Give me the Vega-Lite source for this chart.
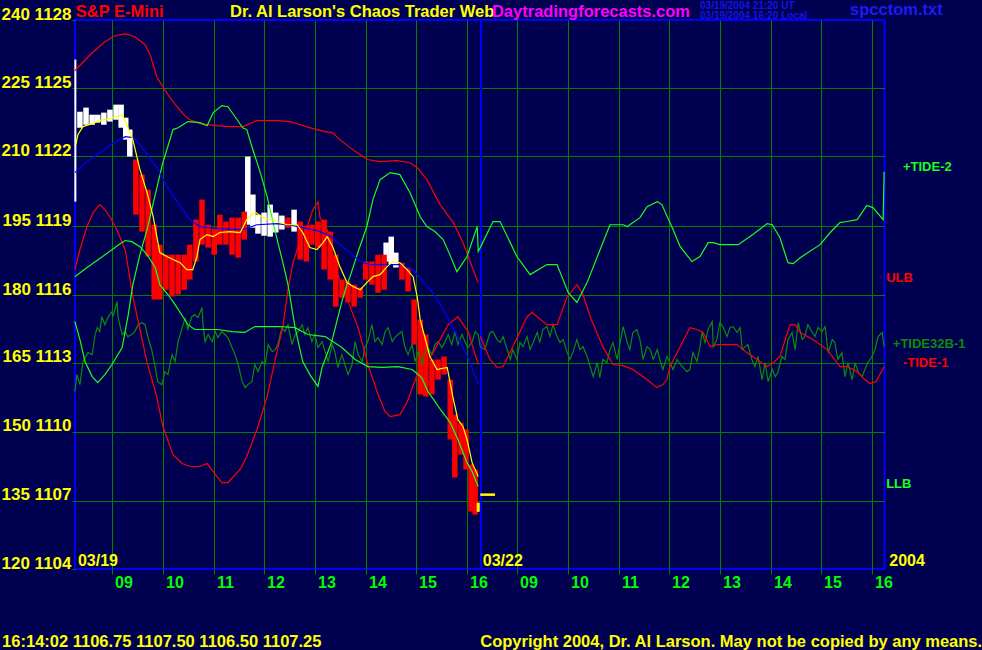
{
"$schema":"https://vega.github.io/schema/vega-lite/v6.json",
"width":809.5,"height":549,
"autosize":{"type":"none"},
"padding":{"left":75,"top":20,"right":97.5,"bottom":81},
"background":"#000050",
"config":{"view":{"stroke":"#0000ff","strokeWidth":2},"axis":{"title":null}},
"datasets":{
"sep":[{"t":16.235,"p":1104,"p2":1128}],
"open":[{"t":8.26,"p":1120.06,"p2":1126.27}],
"last":[{"t":16.18,"p":1106.5,"p2":1106.9}],
"quote":[{"t":16.22,"t2":16.51,"p":1107.25}],
"bars":[
{"t":8.35,"p":1123.29,"p2":1123.99,"zone":"above"},{"t":8.47,"p":1123.42,"p2":1124.17,"zone":"above"},{"t":8.59,"p":1123.42,"p2":1123.86,"zone":"above"},{"t":8.70,"p":1123.51,"p2":1123.86,"zone":"above"},{"t":8.82,"p":1123.42,"p2":1123.95,"zone":"above"},{"t":8.94,"p":1123.56,"p2":1124.08,"zone":"above"},{"t":9.06,"p":1123.64,"p2":1124.30,"zone":"above"},{"t":9.16,"p":1123.29,"p2":1124.30,"zone":"above"},{"t":9.25,"p":1122.77,"p2":1123.73,"zone":"above"},{"t":9.33,"p":1122.03,"p2":1123.21,"zone":"above"},
{"t":9.45,"p":1119.49,"p2":1121.90,"zone":"below"},{"t":9.57,"p":1118.75,"p2":1121.24,"zone":"below"},{"t":9.69,"p":1117.66,"p2":1120.58,"zone":"below"},{"t":9.81,"p":1115.78,"p2":1119.05,"zone":"below"},{"t":9.92,"p":1115.78,"p2":1118.18,"zone":"below"},{"t":10.04,"p":1116.21,"p2":1117.74,"zone":"below"},{"t":10.16,"p":1115.91,"p2":1117.74,"zone":"below"},{"t":10.28,"p":1116.00,"p2":1117.74,"zone":"below"},{"t":10.40,"p":1116.21,"p2":1117.74,"zone":"below"},{"t":10.51,"p":1116.65,"p2":1118.18,"zone":"below"},{"t":10.63,"p":1117.44,"p2":1119.27,"zone":"below"},{"t":10.75,"p":1118.18,"p2":1120.15,"zone":"below"},{"t":10.87,"p":1118.05,"p2":1119.05,"zone":"below"},{"t":10.99,"p":1117.74,"p2":1118.92,"zone":"below"},{"t":11.10,"p":1118.18,"p2":1119.49,"zone":"below"},{"t":11.22,"p":1118.18,"p2":1119.19,"zone":"below"},{"t":11.34,"p":1117.74,"p2":1119.36,"zone":"below"},{"t":11.46,"p":1117.61,"p2":1119.36,"zone":"below"},{"t":11.58,"p":1118.40,"p2":1119.62,"zone":"below"},
{"t":11.65,"p":1119.05,"p2":1122.03,"zone":"above"},{"t":11.75,"p":1118.92,"p2":1120.37,"zone":"above"},{"t":11.85,"p":1118.66,"p2":1119.49,"zone":"above"},{"t":11.97,"p":1118.57,"p2":1119.58,"zone":"above"},{"t":12.09,"p":1118.53,"p2":1119.93,"zone":"above"},{"t":12.20,"p":1118.71,"p2":1119.58,"zone":"above"},{"t":12.32,"p":1118.84,"p2":1119.45,"zone":"above"},
{"t":12.44,"p":1118.92,"p2":1119.36,"zone":"below"},{"t":12.56,"p":1118.75,"p2":1119.71,"zone":"above"},
{"t":12.68,"p":1117.53,"p2":1119.19,"zone":"below"},{"t":12.80,"p":1117.44,"p2":1119.01,"zone":"below"},{"t":12.91,"p":1118.18,"p2":1119.05,"zone":"below"},{"t":13.03,"p":1118.05,"p2":1119.19,"zone":"below"},{"t":13.15,"p":1117.09,"p2":1119.27,"zone":"below"},{"t":13.27,"p":1116.65,"p2":1118.75,"zone":"below"},{"t":13.38,"p":1115.47,"p2":1117.74,"zone":"below"},{"t":13.50,"p":1115.86,"p2":1116.65,"zone":"below"},{"t":13.62,"p":1115.65,"p2":1116.56,"zone":"below"},{"t":13.74,"p":1115.47,"p2":1116.43,"zone":"below"},{"t":13.86,"p":1115.86,"p2":1116.30,"zone":"below"},{"t":13.97,"p":1116.65,"p2":1117.44,"zone":"below"},{"t":14.09,"p":1116.43,"p2":1117.44,"zone":"below"},{"t":14.21,"p":1116.08,"p2":1117.74,"zone":"below"},{"t":14.33,"p":1116.21,"p2":1117.74,"zone":"below"},
{"t":14.37,"p":1117.44,"p2":1118.27,"zone":"above"},{"t":14.47,"p":1117.31,"p2":1118.53,"zone":"above"},{"t":14.56,"p":1117.18,"p2":1117.83,"zone":"above"},
{"t":14.68,"p":1116.65,"p2":1117.39,"zone":"below"},{"t":14.80,"p":1116.13,"p2":1117.18,"zone":"below"},{"t":14.92,"p":1113.81,"p2":1115.78,"zone":"below"},{"t":15.04,"p":1111.63,"p2":1114.90,"zone":"below"},{"t":15.15,"p":1111.54,"p2":1114.25,"zone":"below"},{"t":15.27,"p":1111.63,"p2":1113.16,"zone":"below"},{"t":15.39,"p":1112.28,"p2":1113.16,"zone":"below"},{"t":15.51,"p":1112.50,"p2":1113.29,"zone":"below"},{"t":15.63,"p":1109.66,"p2":1112.28,"zone":"below"},{"t":15.72,"p":1108.00,"p2":1110.75,"zone":"below"},{"t":15.84,"p":1109.00,"p2":1110.40,"zone":"below"},{"t":15.94,"p":1108.35,"p2":1110.10,"zone":"below"},{"t":16.04,"p":1106.51,"p2":1108.57,"zone":"below"},{"t":16.12,"p":1106.38,"p2":1108.35,"zone":"below"}
],
"tide32":[
{"t":8.25,"p":1111.76},{"t":8.29,"p":1112.50},{"t":8.35,"p":1112.06},{"t":8.41,"p":1113.07},{"t":8.51,"p":1113.46},{"t":8.59,"p":1113.37},{"t":8.65,"p":1114.25},{"t":8.69,"p":1114.55},{"t":8.74,"p":1114.38},{"t":8.78,"p":1115.03},{"t":8.84,"p":1114.68},{"t":8.90,"p":1114.99},{"t":8.98,"p":1115.25},{"t":9.00,"p":1115.03},{"t":9.08,"p":1115.69},{"t":9.10,"p":1114.99},{"t":9.18,"p":1114.25},{"t":9.24,"p":1114.38},{"t":9.29,"p":1114.16},{"t":9.37,"p":1114.25},{"t":9.43,"p":1114.38},{"t":9.49,"p":1114.68},{"t":9.57,"p":1114.77},{"t":9.63,"p":1114.68},{"t":9.69,"p":1114.12},{"t":9.77,"p":1113.50},{"t":9.83,"p":1112.81},{"t":9.88,"p":1112.19},{"t":9.96,"p":1112.06},{"t":10.02,"p":1112.63},{"t":10.08,"p":1112.50},{"t":10.16,"p":1113.37},{"t":10.22,"p":1113.07},{"t":10.28,"p":1113.94},{"t":10.36,"p":1114.55},{"t":10.42,"p":1114.99},{"t":10.47,"p":1114.47},{"t":10.55,"p":1115.03},{"t":10.61,"p":1115.12},{"t":10.67,"p":1114.99},{"t":10.75,"p":1115.43},{"t":10.77,"p":1114.68},{"t":10.81,"p":1113.94},{"t":10.87,"p":1114.25},{"t":10.95,"p":1113.94},{"t":11.01,"p":1114.38},{"t":11.06,"p":1114.12},{"t":11.14,"p":1114.38},{"t":11.20,"p":1114.25},{"t":11.26,"p":1114.12},{"t":11.34,"p":1113.68},{"t":11.40,"p":1113.37},{"t":11.46,"p":1112.94},{"t":11.54,"p":1112.19},{"t":11.60,"p":1111.93},{"t":11.65,"p":1112.06},{"t":11.73,"p":1112.19},{"t":11.79,"p":1112.94},{"t":11.85,"p":1112.63},{"t":11.93,"p":1113.07},{"t":11.99,"p":1112.94},{"t":12.05,"p":1113.81},{"t":12.13,"p":1113.50},{"t":12.19,"p":1113.59},{"t":12.24,"p":1113.81},{"t":12.32,"p":1114.55},{"t":12.38,"p":1114.38},{"t":12.44,"p":1114.68},{"t":12.52,"p":1113.81},{"t":12.58,"p":1114.25},{"t":12.64,"p":1114.38},{"t":12.72,"p":1114.68},{"t":12.77,"p":1114.25},{"t":12.83,"p":1114.55},{"t":12.91,"p":1113.94},{"t":12.97,"p":1114.25},{"t":13.03,"p":1113.68},{"t":13.11,"p":1113.94},{"t":13.17,"p":1113.50},{"t":13.23,"p":1113.07},{"t":13.31,"p":1113.81},{"t":13.36,"p":1113.50},{"t":13.42,"p":1112.81},{"t":13.50,"p":1113.37},{"t":13.56,"p":1112.94},{"t":13.62,"p":1112.50},{"t":13.70,"p":1112.94},{"t":13.76,"p":1113.94},{"t":13.82,"p":1113.37},{"t":13.90,"p":1113.07},{"t":13.95,"p":1113.68},{"t":14.01,"p":1113.94},{"t":14.09,"p":1114.68},{"t":14.15,"p":1113.94},{"t":14.21,"p":1114.12},{"t":14.29,"p":1113.81},{"t":14.35,"p":1114.38},{"t":14.41,"p":1114.55},{"t":14.49,"p":1113.94},{"t":14.54,"p":1114.12},{"t":14.60,"p":1114.25},{"t":14.68,"p":1114.38},{"t":14.74,"p":1113.68},{"t":14.80,"p":1113.37},{"t":14.88,"p":1113.81},{"t":14.94,"p":1113.07},{"t":15.00,"p":1113.50},{"t":15.08,"p":1112.94},{"t":15.13,"p":1113.50},{"t":15.19,"p":1113.68},{"t":15.27,"p":1113.37},{"t":15.33,"p":1113.81},{"t":15.39,"p":1113.94},{"t":15.47,"p":1113.68},{"t":15.53,"p":1113.94},{"t":15.59,"p":1114.25},{"t":15.66,"p":1113.81},{"t":15.72,"p":1114.38},{"t":15.78,"p":1113.81},{"t":15.86,"p":1114.25},{"t":15.92,"p":1113.94},{"t":15.98,"p":1113.68},{"t":16.06,"p":1113.94},{"t":16.12,"p":1114.38},{"t":16.18,"p":1114.25},
{"t":16.22,"p":1113.72},{"t":16.31,"p":1113.59},{"t":16.41,"p":1114.34},{"t":16.47,"p":1114.38},{"t":16.55,"p":1114.03},{"t":16.61,"p":1113.90},{"t":16.67,"p":1114.16},{"t":16.75,"p":1113.59},{"t":16.81,"p":1113.16},{"t":16.86,"p":1113.59},{"t":16.94,"p":1113.16},{"t":17.00,"p":1113.90},{"t":17.06,"p":1113.72},{"t":17.14,"p":1114.16},{"t":17.20,"p":1113.59},{"t":17.26,"p":1113.90},{"t":17.34,"p":1114.34},{"t":17.39,"p":1113.90},{"t":17.45,"p":1114.47},{"t":17.53,"p":1114.60},{"t":17.59,"p":1114.16},{"t":17.65,"p":1114.68},{"t":17.73,"p":1114.16},{"t":17.79,"p":1113.90},{"t":17.85,"p":1114.03},{"t":17.93,"p":1113.46},{"t":17.98,"p":1113.16},{"t":18.04,"p":1113.46},{"t":18.12,"p":1114.03},{"t":18.18,"p":1113.59},{"t":18.24,"p":1113.72},{"t":18.32,"p":1113.29},{"t":18.38,"p":1112.85},{"t":18.44,"p":1112.41},{"t":18.52,"p":1113.02},{"t":18.57,"p":1112.37},{"t":18.63,"p":1113.16},{"t":18.71,"p":1113.02},{"t":18.77,"p":1113.59},{"t":18.83,"p":1113.90},{"t":18.91,"p":1113.16},{"t":18.97,"p":1113.90},{"t":19.03,"p":1114.60},{"t":19.11,"p":1113.90},{"t":19.16,"p":1113.59},{"t":19.22,"p":1114.34},{"t":19.30,"p":1114.47},{"t":19.36,"p":1114.03},{"t":19.42,"p":1113.16},{"t":19.50,"p":1113.72},{"t":19.56,"p":1113.59},{"t":19.62,"p":1113.16},{"t":19.70,"p":1113.59},{"t":19.75,"p":1113.16},{"t":19.81,"p":1112.72},{"t":19.89,"p":1113.29},{"t":19.95,"p":1113.02},{"t":20.01,"p":1112.72},{"t":20.09,"p":1113.16},{"t":20.15,"p":1112.94},{"t":20.21,"p":1112.81},{"t":20.28,"p":1112.63},{"t":20.34,"p":1112.72},{"t":20.40,"p":1113.46},{"t":20.48,"p":1113.07},{"t":20.54,"p":1113.72},{"t":20.58,"p":1114.34},{"t":20.64,"p":1113.90},{"t":20.70,"p":1114.47},{"t":20.78,"p":1114.82},{"t":20.80,"p":1113.72},{"t":20.87,"p":1114.03},{"t":20.93,"p":1114.77},{"t":20.99,"p":1114.60},{"t":21.07,"p":1114.16},{"t":21.13,"p":1114.55},{"t":21.19,"p":1114.60},{"t":21.27,"p":1114.34},{"t":21.33,"p":1114.55},{"t":21.37,"p":1113.59},{"t":21.43,"p":1113.72},{"t":21.48,"p":1113.81},{"t":21.56,"p":1113.16},{"t":21.62,"p":1112.85},{"t":21.68,"p":1113.29},{"t":21.76,"p":1112.28},{"t":21.82,"p":1113.02},{"t":21.88,"p":1112.19},{"t":21.96,"p":1112.72},{"t":22.02,"p":1112.41},{"t":22.07,"p":1112.59},{"t":22.15,"p":1113.29},{"t":22.21,"p":1113.16},{"t":22.27,"p":1114.03},{"t":22.35,"p":1114.34},{"t":22.41,"p":1113.59},{"t":22.47,"p":1114.77},{"t":22.55,"p":1114.03},{"t":22.60,"p":1114.16},{"t":22.66,"p":1114.68},{"t":22.74,"p":1114.38},{"t":22.80,"p":1114.16},{"t":22.86,"p":1114.55},{"t":22.94,"p":1114.38},{"t":23.00,"p":1114.60},{"t":23.06,"p":1113.46},{"t":23.14,"p":1114.03},{"t":23.19,"p":1113.90},{"t":23.25,"p":1113.16},{"t":23.33,"p":1113.46},{"t":23.39,"p":1112.41},{"t":23.45,"p":1113.02},{"t":23.53,"p":1112.28},{"t":23.59,"p":1113.02},{"t":23.65,"p":1112.59},{"t":23.73,"p":1112.41},{"t":23.78,"p":1112.72},{"t":23.84,"p":1113.02},{"t":23.92,"p":1113.29},{"t":23.98,"p":1113.59},{"t":24.04,"p":1114.16},{"t":24.12,"p":1114.34},{"t":24.16,"p":1113.72}
],
"curves":[
{"series":"ULB","t":8.25,"p":1125.78},{"series":"ULB","t":8.55,"p":1126.48},{"series":"ULB","t":8.84,"p":1127.05},{"series":"ULB","t":9.04,"p":1127.31},{"series":"ULB","t":9.24,"p":1127.40},{"series":"ULB","t":9.43,"p":1127.27},{"series":"ULB","t":9.63,"p":1126.92},{"series":"ULB","t":9.73,"p":1126.48},{"series":"ULB","t":9.86,"p":1125.52},{"series":"ULB","t":9.98,"p":1125.09},{"series":"ULB","t":10.12,"p":1124.60},{"series":"ULB","t":10.26,"p":1124.21},{"series":"ULB","t":10.41,"p":1123.82},{"series":"ULB","t":10.51,"p":1123.64},{"series":"ULB","t":10.71,"p":1123.47},{"series":"ULB","t":11.04,"p":1123.38},{"series":"ULB","t":11.30,"p":1123.34},{"series":"ULB","t":11.55,"p":1123.34},{"series":"ULB","t":11.69,"p":1123.47},{"series":"ULB","t":11.83,"p":1123.60},{"series":"ULB","t":12.22,"p":1123.60},{"series":"ULB","t":12.48,"p":1123.56},{"series":"ULB","t":12.68,"p":1123.42},{"series":"ULB","t":12.93,"p":1123.25},{"series":"ULB","t":13.17,"p":1123.12},{"series":"ULB","t":13.31,"p":1123.08},{"series":"ULB","t":13.46,"p":1122.77},{"series":"ULB","t":13.66,"p":1122.42},{"series":"ULB","t":13.86,"p":1122.11},{"series":"ULB","t":14.00,"p":1121.90},{"series":"ULB","t":14.25,"p":1121.81},{"series":"ULB","t":14.58,"p":1121.85},{"series":"ULB","t":14.84,"p":1121.76},{"series":"ULB","t":14.98,"p":1121.55},{"series":"ULB","t":15.17,"p":1121.02},{"series":"ULB","t":15.43,"p":1119.93},{"series":"ULB","t":15.69,"p":1119.14},{"series":"ULB","t":15.88,"p":1118.27},{"series":"ULB","t":16.08,"p":1117.09},{"series":"ULB","t":16.18,"p":1116.52},
{"series":"LLB","t":8.25,"p":1116.78},{"series":"LLB","t":8.49,"p":1117.18},{"series":"LLB","t":8.74,"p":1117.57},{"series":"LLB","t":8.98,"p":1117.96},{"series":"LLB","t":9.14,"p":1118.22},{"series":"LLB","t":9.24,"p":1118.36},{"series":"LLB","t":9.37,"p":1118.31},{"series":"LLB","t":9.53,"p":1118.09},{"series":"LLB","t":9.67,"p":1117.74},{"series":"LLB","t":9.83,"p":1117.18},{"series":"LLB","t":9.92,"p":1116.43},{"series":"LLB","t":10.08,"p":1116.00},{"series":"LLB","t":10.22,"p":1115.56},{"series":"LLB","t":10.36,"p":1115.08},{"series":"LLB","t":10.47,"p":1114.68},{"series":"LLB","t":10.61,"p":1114.47},{"series":"LLB","t":11.06,"p":1114.47},{"series":"LLB","t":11.34,"p":1114.38},{"series":"LLB","t":11.59,"p":1114.34},{"series":"LLB","t":11.79,"p":1114.60},{"series":"LLB","t":12.28,"p":1114.60},{"series":"LLB","t":12.58,"p":1114.55},{"series":"LLB","t":12.83,"p":1114.25},{"series":"LLB","t":13.17,"p":1114.16},{"series":"LLB","t":13.50,"p":1113.68},{"series":"LLB","t":13.76,"p":1113.16},{"series":"LLB","t":14.01,"p":1112.85},{"series":"LLB","t":14.29,"p":1112.81},{"series":"LLB","t":14.60,"p":1112.85},{"series":"LLB","t":14.88,"p":1112.72},{"series":"LLB","t":15.07,"p":1112.37},{"series":"LLB","t":15.19,"p":1111.76},{"series":"LLB","t":15.29,"p":1111.45},{"series":"LLB","t":15.45,"p":1110.93},{"series":"LLB","t":15.63,"p":1110.40},{"series":"LLB","t":15.78,"p":1109.66},{"series":"LLB","t":15.96,"p":1108.65},{"series":"LLB","t":16.06,"p":1108.26},{"series":"LLB","t":16.18,"p":1107.61},
{"series":"TIDE2","t":8.25,"p":1114.82},{"series":"TIDE2","t":8.35,"p":1114.03},{"series":"TIDE2","t":8.45,"p":1113.07},{"series":"TIDE2","t":8.59,"p":1112.41},{"series":"TIDE2","t":8.70,"p":1112.15},{"series":"TIDE2","t":8.84,"p":1112.50},{"series":"TIDE2","t":8.98,"p":1112.94},{"series":"TIDE2","t":9.18,"p":1113.68},{"series":"TIDE2","t":9.30,"p":1115.12},{"series":"TIDE2","t":9.39,"p":1116.43},{"series":"TIDE2","t":9.53,"p":1117.74},{"series":"TIDE2","t":9.67,"p":1118.84},{"series":"TIDE2","t":9.83,"p":1120.37},{"series":"TIDE2","t":9.98,"p":1121.76},{"series":"TIDE2","t":10.18,"p":1123.21},{"series":"TIDE2","t":10.28,"p":1123.29},{"series":"TIDE2","t":10.47,"p":1123.56},{"series":"TIDE2","t":10.71,"p":1123.51},{"series":"TIDE2","t":10.85,"p":1123.38},{"series":"TIDE2","t":10.97,"p":1123.95},{"series":"TIDE2","t":11.14,"p":1124.26},{"series":"TIDE2","t":11.26,"p":1124.21},{"series":"TIDE2","t":11.44,"p":1123.64},{"series":"TIDE2","t":11.55,"p":1123.29},{"series":"TIDE2","t":11.63,"p":1123.21},{"series":"TIDE2","t":11.75,"p":1122.33},{"series":"TIDE2","t":11.89,"p":1121.37},{"series":"TIDE2","t":12.03,"p":1120.28},{"series":"TIDE2","t":12.18,"p":1118.84},{"series":"TIDE2","t":12.34,"p":1117.39},{"series":"TIDE2","t":12.44,"p":1116.43},{"series":"TIDE2","t":12.58,"p":1114.55},{"series":"TIDE2","t":12.73,"p":1113.07},{"series":"TIDE2","t":12.87,"p":1112.50},{"series":"TIDE2","t":13.03,"p":1111.98},{"series":"TIDE2","t":13.11,"p":1112.81},{"series":"TIDE2","t":13.30,"p":1113.94},{"series":"TIDE2","t":13.50,"p":1115.69},{"series":"TIDE2","t":13.60,"p":1116.43},{"series":"TIDE2","t":13.66,"p":1116.78},{"series":"TIDE2","t":13.82,"p":1117.88},{"series":"TIDE2","t":13.99,"p":1118.97},{"series":"TIDE2","t":14.11,"p":1120.15},{"series":"TIDE2","t":14.25,"p":1121.02},{"series":"TIDE2","t":14.45,"p":1121.33},{"series":"TIDE2","t":14.64,"p":1121.24},{"series":"TIDE2","t":14.84,"p":1120.45},{"series":"TIDE2","t":15.04,"p":1119.40},{"series":"TIDE2","t":15.17,"p":1118.97},{"series":"TIDE2","t":15.33,"p":1118.75},{"series":"TIDE2","t":15.49,"p":1118.40},{"series":"TIDE2","t":15.63,"p":1117.70},{"series":"TIDE2","t":15.76,"p":1117.00},{"series":"TIDE2","t":15.96,"p":1117.66},{"series":"TIDE2","t":16.16,"p":1118.97},{"series":"TIDE2","t":16.18,"p":1117.88},{"series":"TIDE2","t":16.22,"p":1118.05},{"series":"TIDE2","t":16.47,"p":1119.19},{"series":"TIDE2","t":16.61,"p":1119.19},{"series":"TIDE2","t":16.94,"p":1117.66},{"series":"TIDE2","t":17.20,"p":1116.87},{"series":"TIDE2","t":17.53,"p":1117.31},{"series":"TIDE2","t":17.73,"p":1117.31},{"series":"TIDE2","t":17.95,"p":1116.08},{"series":"TIDE2","t":18.12,"p":1115.65},{"series":"TIDE2","t":18.32,"p":1116.52},{"series":"TIDE2","t":18.77,"p":1119.05},{"series":"TIDE2","t":19.03,"p":1119.05},{"series":"TIDE2","t":19.11,"p":1118.97},{"series":"TIDE2","t":19.36,"p":1119.36},{"series":"TIDE2","t":19.50,"p":1119.84},{"series":"TIDE2","t":19.70,"p":1120.06},{"series":"TIDE2","t":19.79,"p":1119.93},{"series":"TIDE2","t":20.01,"p":1118.84},{"series":"TIDE2","t":20.15,"p":1118.09},{"series":"TIDE2","t":20.38,"p":1117.44},{"series":"TIDE2","t":20.54,"p":1117.66},{"series":"TIDE2","t":20.70,"p":1118.27},{"series":"TIDE2","t":20.80,"p":1118.27},{"series":"TIDE2","t":20.93,"p":1118.18},{"series":"TIDE2","t":21.29,"p":1118.18},{"series":"TIDE2","t":21.58,"p":1118.62},{"series":"TIDE2","t":21.86,"p":1119.10},{"series":"TIDE2","t":21.96,"p":1119.05},{"series":"TIDE2","t":22.11,"p":1118.49},{"series":"TIDE2","t":22.27,"p":1117.39},{"series":"TIDE2","t":22.37,"p":1117.35},{"series":"TIDE2","t":22.51,"p":1117.61},{"series":"TIDE2","t":22.90,"p":1118.18},{"series":"TIDE2","t":23.10,"p":1118.71},{"series":"TIDE2","t":23.29,"p":1119.14},{"series":"TIDE2","t":23.43,"p":1119.19},{"series":"TIDE2","t":23.63,"p":1119.27},{"series":"TIDE2","t":23.82,"p":1119.89},{"series":"TIDE2","t":23.94,"p":1119.80},{"series":"TIDE2","t":24.14,"p":1119.27},{"series":"TIDE2","t":24.16,"p":1121.37},
{"series":"TIDE1a","t":8.25,"p":1117.09},{"series":"TIDE1a","t":8.35,"p":1117.96},{"series":"TIDE1a","t":8.49,"p":1118.97},{"series":"TIDE1a","t":8.61,"p":1119.58},{"series":"TIDE1a","t":8.74,"p":1119.93},{"series":"TIDE1a","t":8.84,"p":1119.71},{"series":"TIDE1a","t":8.94,"p":1119.40},{"series":"TIDE1a","t":9.10,"p":1118.71},{"series":"TIDE1a","t":9.24,"p":1117.96},{"series":"TIDE1a","t":9.39,"p":1115.91},{"series":"TIDE1a","t":9.53,"p":1114.47},{"series":"TIDE1a","t":9.67,"p":1113.02},{"series":"TIDE1a","t":9.86,"p":1111.54},{"series":"TIDE1a","t":9.98,"p":1110.23},{"series":"TIDE1a","t":10.18,"p":1109.00},{"series":"TIDE1a","t":10.36,"p":1108.61},{"series":"TIDE1a","t":10.51,"p":1108.48},{"series":"TIDE1a","t":10.71,"p":1108.48},{"series":"TIDE1a","t":10.85,"p":1108.61},{"series":"TIDE1a","t":10.97,"p":1108.26},{"series":"TIDE1a","t":11.14,"p":1107.78},{"series":"TIDE1a","t":11.26,"p":1107.78},{"series":"TIDE1a","t":11.50,"p":1108.35},{"series":"TIDE1a","t":11.63,"p":1108.92},{"series":"TIDE1a","t":11.83,"p":1110.10},{"series":"TIDE1a","t":12.03,"p":1111.54},{"series":"TIDE1a","t":12.18,"p":1113.07},{"series":"TIDE1a","t":12.34,"p":1114.60},{"series":"TIDE1a","t":12.44,"p":1116.21},{"series":"TIDE1a","t":12.54,"p":1117.39},{"series":"TIDE1a","t":12.68,"p":1118.40},{"series":"TIDE1a","t":12.81,"p":1118.92},{"series":"TIDE1a","t":12.93,"p":1119.71},{"series":"TIDE1a","t":13.03,"p":1120.06},{"series":"TIDE1a","t":13.07,"p":1119.36},{"series":"TIDE1a","t":13.21,"p":1118.84},{"series":"TIDE1a","t":13.32,"p":1117.74},{"series":"TIDE1a","t":13.40,"p":1116.96},{"series":"TIDE1a","t":13.56,"p":1116.13},{"series":"TIDE1a","t":13.66,"p":1115.47},{"series":"TIDE1a","t":13.82,"p":1114.55},{"series":"TIDE1a","t":14.01,"p":1112.94},{"series":"TIDE1a","t":14.21,"p":1111.63},{"series":"TIDE1a","t":14.35,"p":1110.88},{"series":"TIDE1a","t":14.45,"p":1110.66},{"series":"TIDE1a","t":14.64,"p":1110.75},{"series":"TIDE1a","t":14.78,"p":1111.28},{"series":"TIDE1a","t":15.00,"p":1112.63},{"series":"TIDE1a","t":15.27,"p":1113.37},{"series":"TIDE1a","t":15.59,"p":1114.68},{"series":"TIDE1a","t":15.78,"p":1115.03},{"series":"TIDE1a","t":15.98,"p":1114.38},{"series":"TIDE1a","t":16.18,"p":1112.94},
{"series":"TIDE1b","t":16.22,"p":1114.16},{"series":"TIDE1b","t":16.41,"p":1113.16},{"series":"TIDE1b","t":16.55,"p":1112.81},{"series":"TIDE1b","t":16.67,"p":1112.85},{"series":"TIDE1b","t":16.86,"p":1113.72},{"series":"TIDE1b","t":17.14,"p":1115.03},{"series":"TIDE1b","t":17.24,"p":1115.21},{"series":"TIDE1b","t":17.53,"p":1114.68},{"series":"TIDE1b","t":17.73,"p":1114.68},{"series":"TIDE1b","t":17.93,"p":1115.91},{"series":"TIDE1b","t":18.12,"p":1116.43},{"series":"TIDE1b","t":18.24,"p":1116.00},{"series":"TIDE1b","t":18.38,"p":1115.03},{"series":"TIDE1b","t":18.63,"p":1113.72},{"series":"TIDE1b","t":18.83,"p":1112.94},{"series":"TIDE1b","t":19.03,"p":1112.89},{"series":"TIDE1b","t":19.22,"p":1112.72},{"series":"TIDE1b","t":19.50,"p":1112.28},{"series":"TIDE1b","t":19.69,"p":1111.93},{"series":"TIDE1b","t":19.81,"p":1112.06},{"series":"TIDE1b","t":19.89,"p":1112.28},{"series":"TIDE1b","t":19.95,"p":1112.85},{"series":"TIDE1b","t":20.15,"p":1113.72},{"series":"TIDE1b","t":20.34,"p":1114.55},{"series":"TIDE1b","t":20.48,"p":1114.47},{"series":"TIDE1b","t":20.60,"p":1114.34},{"series":"TIDE1b","t":20.74,"p":1113.72},{"series":"TIDE1b","t":20.89,"p":1113.81},{"series":"TIDE1b","t":21.27,"p":1113.81},{"series":"TIDE1b","t":21.46,"p":1113.46},{"series":"TIDE1b","t":21.66,"p":1113.16},{"series":"TIDE1b","t":21.86,"p":1112.85},{"series":"TIDE1b","t":21.98,"p":1113.02},{"series":"TIDE1b","t":22.11,"p":1113.29},{"series":"TIDE1b","t":22.31,"p":1114.68},{"series":"TIDE1b","t":22.41,"p":1114.68},{"series":"TIDE1b","t":22.51,"p":1114.34},{"series":"TIDE1b","t":22.76,"p":1114.03},{"series":"TIDE1b","t":23.04,"p":1113.59},{"series":"TIDE1b","t":23.29,"p":1112.85},{"series":"TIDE1b","t":23.43,"p":1112.85},{"series":"TIDE1b","t":23.63,"p":1112.63},{"series":"TIDE1b","t":23.78,"p":1112.28},{"series":"TIDE1b","t":23.88,"p":1112.11},{"series":"TIDE1b","t":24.00,"p":1112.19},{"series":"TIDE1b","t":24.16,"p":1112.85},
{"series":"MID","t":8.25,"p":1121.33},{"series":"MID","t":8.49,"p":1121.81},{"series":"MID","t":8.74,"p":1122.20},{"series":"MID","t":8.98,"p":1122.59},{"series":"MID","t":9.24,"p":1122.90},{"series":"MID","t":9.39,"p":1122.86},{"series":"MID","t":9.53,"p":1122.55},{"series":"MID","t":9.67,"p":1122.11},{"series":"MID","t":9.86,"p":1121.55},{"series":"MID","t":10.06,"p":1120.72},{"series":"MID","t":10.26,"p":1120.06},{"series":"MID","t":10.51,"p":1119.27},{"series":"MID","t":10.71,"p":1118.97},{"series":"MID","t":11.04,"p":1118.88},{"series":"MID","t":11.55,"p":1118.84},{"series":"MID","t":11.83,"p":1119.05},{"series":"MID","t":12.22,"p":1119.10},{"series":"MID","t":12.54,"p":1119.01},{"series":"MID","t":13.01,"p":1118.79},{"series":"MID","t":13.27,"p":1118.57},{"series":"MID","t":13.46,"p":1118.18},{"series":"MID","t":13.66,"p":1117.83},{"series":"MID","t":13.86,"p":1117.44},{"series":"MID","t":14.05,"p":1117.31},{"series":"MID","t":14.31,"p":1117.31},{"series":"MID","t":14.64,"p":1117.31},{"series":"MID","t":14.90,"p":1117.09},{"series":"MID","t":15.09,"p":1116.56},{"series":"MID","t":15.29,"p":1116.08},{"series":"MID","t":15.47,"p":1115.43},{"series":"MID","t":15.72,"p":1114.38},{"series":"MID","t":15.98,"p":1113.24},{"series":"MID","t":16.18,"p":1112.06},
{"series":"MA","t":8.27,"p":1122.55},{"series":"MA","t":8.31,"p":1122.99},{"series":"MA","t":8.41,"p":1123.34},{"series":"MA","t":8.59,"p":1123.47},{"series":"MA","t":8.74,"p":1123.60},{"series":"MA","t":8.94,"p":1123.69},{"series":"MA","t":9.08,"p":1123.77},{"series":"MA","t":9.18,"p":1123.86},{"series":"MA","t":9.27,"p":1123.42},{"series":"MA","t":9.39,"p":1122.77},{"series":"MA","t":9.53,"p":1121.46},{"series":"MA","t":9.67,"p":1120.45},{"series":"MA","t":9.79,"p":1119.40},{"series":"MA","t":9.92,"p":1117.83},{"series":"MA","t":10.06,"p":1117.66},{"series":"MA","t":10.18,"p":1117.53},{"series":"MA","t":10.32,"p":1117.39},{"series":"MA","t":10.45,"p":1117.09},{"series":"MA","t":10.57,"p":1117.09},{"series":"MA","t":10.65,"p":1117.66},{"series":"MA","t":10.71,"p":1118.40},{"series":"MA","t":10.85,"p":1118.62},{"series":"MA","t":10.97,"p":1118.53},{"series":"MA","t":11.10,"p":1118.71},{"series":"MA","t":11.30,"p":1118.75},{"series":"MA","t":11.50,"p":1118.71},{"series":"MA","t":11.63,"p":1119.27},{"series":"MA","t":11.79,"p":1119.62},{"series":"MA","t":11.95,"p":1119.36},{"series":"MA","t":12.09,"p":1119.27},{"series":"MA","t":12.22,"p":1119.19},{"series":"MA","t":12.42,"p":1119.05},{"series":"MA","t":12.62,"p":1119.05},{"series":"MA","t":12.73,"p":1118.71},{"series":"MA","t":12.87,"p":1118.05},{"series":"MA","t":13.01,"p":1117.96},{"series":"MA","t":13.13,"p":1118.27},{"series":"MA","t":13.21,"p":1118.53},{"series":"MA","t":13.32,"p":1118.09},{"series":"MA","t":13.46,"p":1117.22},{"series":"MA","t":13.60,"p":1116.52},{"series":"MA","t":13.72,"p":1116.35},{"series":"MA","t":13.86,"p":1116.21},{"series":"MA","t":13.99,"p":1116.52},{"series":"MA","t":14.11,"p":1116.78},{"series":"MA","t":14.25,"p":1116.87},{"series":"MA","t":14.39,"p":1117.22},{"series":"MA","t":14.50,"p":1117.44},{"series":"MA","t":14.64,"p":1117.39},{"series":"MA","t":14.78,"p":1117.09},{"series":"MA","t":14.90,"p":1116.78},{"series":"MA","t":14.98,"p":1115.91},{"series":"MA","t":15.04,"p":1114.90},{"series":"MA","t":15.09,"p":1114.47},{"series":"MA","t":15.23,"p":1113.29},{"series":"MA","t":15.37,"p":1112.72},{"series":"MA","t":15.57,"p":1112.81},{"series":"MA","t":15.68,"p":1111.54},{"series":"MA","t":15.78,"p":1110.53},{"series":"MA","t":15.88,"p":1110.23},{"series":"MA","t":15.96,"p":1109.66},{"series":"MA","t":16.06,"p":1108.65},{"series":"MA","t":16.18,"p":1108.04}
],
"notes":[
{"label":"S&P E-Mini","role":"brand","t":8.27,"p":1128.14},
{"label":"Dr. Al Larson's Chaos Trader Web","role":"title","t":11.30,"p":1128.14},
{"label":"Daytradingforecasts.com","role":"site","t":16.45,"p":1128.14},
{"label":"spcctom.txt","role":"file","t":23.49,"p":1128.23},
{"label":"16:14:02 1106.75 1107.50 1106.50 1107.25","role":"status","t":6.82,"p":1100.61},
{"label":"Copyright 2004, Dr. Al Larson. May not be copied by any means.","role":"status","t":16.22,"p":1100.61},
{"label":"03/19/2004 21:20 UT","role":"stamp","t":20.54,"p":1128.49},
{"label":"03/19/2004 16:20 Local","role":"stamp","t":20.54,"p":1128.05},
{"label":"+TIDE-2","role":"lime","t":24.53,"p":1121.41},
{"label":"ULB","role":"red2","t":24.20,"p":1116.56},
{"label":"+TIDE32B-1","role":"dark","t":24.33,"p":1113.68},
{"label":"-TIDE-1","role":"red2","t":24.53,"p":1112.81},
{"label":"LLB","role":"lime","t":24.20,"p":1107.52},
{"label":"03/19","role":"date","t":8.31,"p":1104.15},
{"label":"03/22","role":"date","t":16.27,"p":1104.15},
{"label":"2004","role":"date","t":24.26,"p":1104.15}
]
},
"encoding":{
"x":{"field":"t","type":"quantitative","scale":{"domain":[8.253,24.167],"nice":false,"zero":false},
 "axis":{"values":[8.9804,9.9831,10.9857,11.9687,12.9714,13.974,14.957,15.9597,16.9427,17.9453,18.9479,19.931,20.9336,21.9363,22.9193,23.9219],
 "labelExpr":"pad(toString(round(datum.value > 16.5 ? datum.value - 7.94 : datum.value)), 2, '0', 'left')",
 "grid":true,"gridColor":"#008000","gridWidth":1,"gridOpacity":1,"domain":false,"ticks":true,"tickColor":"#008000","tickSize":5,"tickWidth":1,
 "labelColor":"#00ff00","labelFont":"Liberation Sans","labelFontWeight":"bold","labelFontSize":16,"labelAlign":"left","labelBaseline":"top","labelOffset":2.5,"labelPadding":0,"labelFlush":false,"labelOverlap":false,"title":null}},
"y":{"field":"p","type":"quantitative","scale":{"domain":[1104,1128],"nice":false,"zero":false},
 "axis":{"values":[1104,1106.9727,1109.9891,1113.0055,1115.9781,1118.9945,1122.0546,1125.0273,1128],
 "labelExpr":"toString(120 + (round(datum.value) - 1104) * 5) + ' ' + toString(round(datum.value))",
 "grid":true,"gridColor":{"condition":{"test":"datum.value < 1104.5 || datum.value > 1127.5","value":"transparent"},"value":"#008000"},"gridWidth":1,"gridOpacity":1,"domain":false,"ticks":true,"tickColor":"#008000","tickSize":3,
 "labelColor":"#ffff00","labelFont":"Liberation Sans","labelFontWeight":"bold","labelFontSize":17,"labelBaseline":"alphabetic","labelOffset":-1,"labelPadding":1,"labelFlush":false,"labelOverlap":false,"title":null}}
},
"layer":[
{"data":{"name":"sep"},"mark":{"type":"rule","color":"#0000ff","strokeWidth":2},"encoding":{"y2":{"field":"p2"}}},
{"data":{"name":"bars"},"transform":[{"filter":"datum.zone == 'above'"}],"mark":{"type":"rule","color":"#ffffff","strokeWidth":5.5},"encoding":{"y2":{"field":"p2"}}},
{"data":{"name":"bars"},"transform":[{"filter":"datum.zone == 'below'"}],"mark":{"type":"rule","color":"#ff0000","strokeWidth":5.5},"encoding":{"y2":{"field":"p2"}}},
{"data":{"name":"open"},"mark":{"type":"rule","color":"#ffffff","strokeWidth":2},"encoding":{"y2":{"field":"p2"}}},
{"data":{"name":"tide32"},"mark":{"type":"line","color":"#0a8c0a","strokeWidth":1.2},"encoding":{}},
{"data":{"name":"curves"},"transform":[{"filter":"datum.series == 'ULB' || datum.series == 'TIDE1a' || datum.series == 'TIDE1b'"}],"mark":{"type":"line","color":"#ff0000","strokeWidth":1.2},"encoding":{"detail":{"field":"series"}}},
{"data":{"name":"curves"},"transform":[{"filter":"datum.series == 'LLB' || datum.series == 'TIDE2'"}],"mark":{"type":"line","color":"#1aff1a","strokeWidth":1.2},"encoding":{"detail":{"field":"series"}}},
{"data":{"name":"curves"},"transform":[{"filter":"datum.series == 'MID'"}],"mark":{"type":"line","color":"#0000ff","strokeWidth":1.2},"encoding":{}},
{"data":{"name":"curves"},"transform":[{"filter":"datum.series == 'MA'"}],"mark":{"type":"line","color":"#ffff00","strokeWidth":1.2},"encoding":{}},
{"data":{"name":"last"},"mark":{"type":"rule","color":"#ffff00","strokeWidth":3},"encoding":{"y2":{"field":"p2"}}},
{"data":{"name":"quote"},"mark":{"type":"rule","color":"#ffff00","strokeWidth":2.5},"encoding":{"x2":{"field":"t2"}}},
{"data":{"name":"notes"},"transform":[{"filter":"indexof(['brand','title','site','file','status'], datum.role) >= 0"}],
 "mark":{"type":"text","font":"Liberation Sans","fontWeight":"bold","fontSize":16.5,"align":"left","baseline":"alphabetic"},
 "encoding":{"text":{"field":"label"},"color":{"field":"role","type":"nominal","legend":null,"scale":{"domain":["brand","title","site","file","status","stamp","red2","lime","dark","date"],"range":["#ff0000","#ffff00","#ff00ff","#1c1cf0","#ffff00","#1414e6","#ff0000","#1aff1a","#0a8c0a","#ffff00"]}}}},
{"data":{"name":"notes"},"transform":[{"filter":"datum.role == 'stamp'"}],
 "mark":{"type":"text","font":"Liberation Sans","fontWeight":"bold","fontSize":10,"align":"left","baseline":"alphabetic"},
 "encoding":{"text":{"field":"label"},"color":{"field":"role","type":"nominal","legend":null,"scale":{"domain":["brand","title","site","file","status","stamp","red2","lime","dark","date"],"range":["#ff0000","#ffff00","#ff00ff","#1c1cf0","#ffff00","#1414e6","#ff0000","#1aff1a","#0a8c0a","#ffff00"]}}}},
{"data":{"name":"notes"},"transform":[{"filter":"datum.role == 'red2' || datum.role == 'lime' || datum.role == 'dark'"}],
 "mark":{"type":"text","font":"Liberation Sans","fontWeight":"bold","fontSize":13,"align":"left","baseline":"alphabetic"},
 "encoding":{"text":{"field":"label"},"color":{"field":"role","type":"nominal","legend":null,"scale":{"domain":["brand","title","site","file","status","stamp","red2","lime","dark","date"],"range":["#ff0000","#ffff00","#ff00ff","#1c1cf0","#ffff00","#1414e6","#ff0000","#1aff1a","#0a8c0a","#ffff00"]}}}},
{"data":{"name":"notes"},"transform":[{"filter":"datum.role == 'date'"}],
 "mark":{"type":"text","font":"Liberation Sans","fontWeight":"bold","fontSize":16,"align":"left","baseline":"alphabetic"},
 "encoding":{"text":{"field":"label"},"color":{"field":"role","type":"nominal","legend":null,"scale":{"domain":["brand","title","site","file","status","stamp","red2","lime","dark","date"],"range":["#ff0000","#ffff00","#ff00ff","#1c1cf0","#ffff00","#1414e6","#ff0000","#1aff1a","#0a8c0a","#ffff00"]}}}}
]
}
